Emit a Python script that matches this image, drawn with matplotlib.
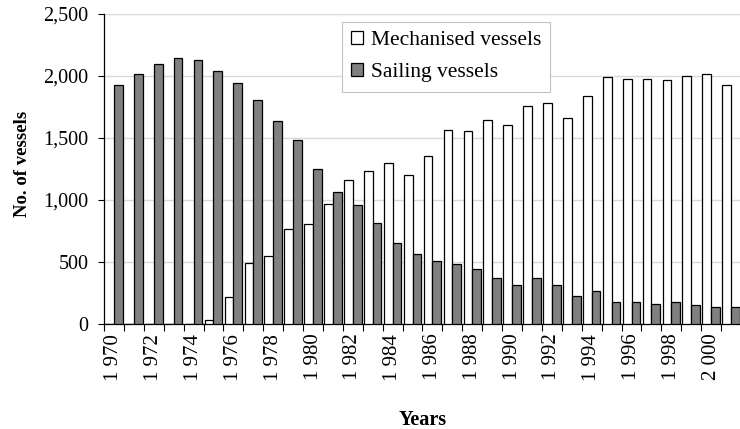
import numpy as np
import matplotlib
matplotlib.use("Agg")
import matplotlib.pyplot as plt
from matplotlib.ticker import FixedLocator, StrMethodFormatter

plt.rcParams['font.family'] = ['Liberation Serif', 'DejaVu Serif']

years = list(range(1970, 2002))
mechanised = [0, 0, 0, 0, 0, 35, 216, 495, 548, 762, 802, 970, 1157, 1233, 1298, 1198,
              1351, 1566, 1550, 1641, 1603, 1754, 1781, 1655, 1835, 1985, 1972, 1972,
              1961, 1998, 2010, 1923]
sailing = [1927, 2016, 2094, 2142, 2129, 2040, 1941, 1801, 1632, 1478, 1250, 1059, 957,
           817, 651, 562, 506, 480, 442, 367, 316, 367, 316, 227, 265, 176, 176, 163,
           176, 152, 139, 139]
labels_mech = "Mechanised vessels"
labels_sail = "Sailing vessels"

fig = plt.figure(figsize=(7.4, 4.29), dpi=100)
ax = fig.add_axes([104 / 740, 1 - 324 / 429, 637 / 740, 310.5 / 429])

x = np.arange(len(years))
w = 0.44
ax.bar(x - w / 2, mechanised, w, color="white", edgecolor="black", linewidth=0.9,
       label=labels_mech, zorder=3)
ax.bar(x + w / 2, sailing, w, color="#808080", edgecolor="black", linewidth=0.9,
       label=labels_sail, zorder=3)

ax.set_xlim(-0.5, len(years) - 0.5)
ax.set_ylim(0, 2500)
ax.set_yticks(range(0, 2501, 500))
ax.yaxis.set_major_formatter(StrMethodFormatter('{x:,.0f}'))
ax.tick_params(axis='y', labelsize=14.5, length=4, width=0.8, pad=7)

# ticks at category boundaries, labels on every other year
ax.xaxis.set_major_locator(FixedLocator(np.arange(-0.5, len(years), 1.0)))
ax.xaxis.set_major_formatter(plt.NullFormatter())
ax.tick_params(axis='x', which='major', length=5, width=0.8)
lab_pos = x[::2]
ax.xaxis.set_minor_locator(FixedLocator(lab_pos))
ax.set_xticklabels([f"{y // 1000} {y % 1000:03d}" for y in years[::2]], minor=True,
                   rotation=90, fontsize=15)
ax.tick_params(axis='x', which='minor', length=0, pad=7)

ax.yaxis.grid(True, color="#d9d9d9", linewidth=1.0)
ax.set_axisbelow(True)
for s in ['top', 'right']:
    ax.spines[s].set_visible(False)
ax.spines['left'].set_linewidth(0.9)
ax.spines['bottom'].set_linewidth(0.9)

ax.set_ylabel("No. of vessels", fontsize=13.5, fontweight='bold')
ax.yaxis.set_label_coords(-0.128, 0.515)
ax.yaxis.label.set_verticalalignment('center')
ax.set_xlabel("Years", fontsize=14.5, fontweight='bold')
ax.xaxis.set_label_coords(0.5, -0.308)
ax.xaxis.label.set_verticalalignment('center')

leg = ax.legend(loc='upper left', bbox_to_anchor=(0.374, 0.973), borderaxespad=0,
                fontsize=15.5, fancybox=False, framealpha=1, edgecolor="#c0c0c0",
                handlelength=0.55, handleheight=0.55, handletextpad=0.35,
                labelspacing=0.62, borderpad=0.42)
leg.get_frame().set_linewidth(0.8)

fig.savefig("out.png", dpi=100)
